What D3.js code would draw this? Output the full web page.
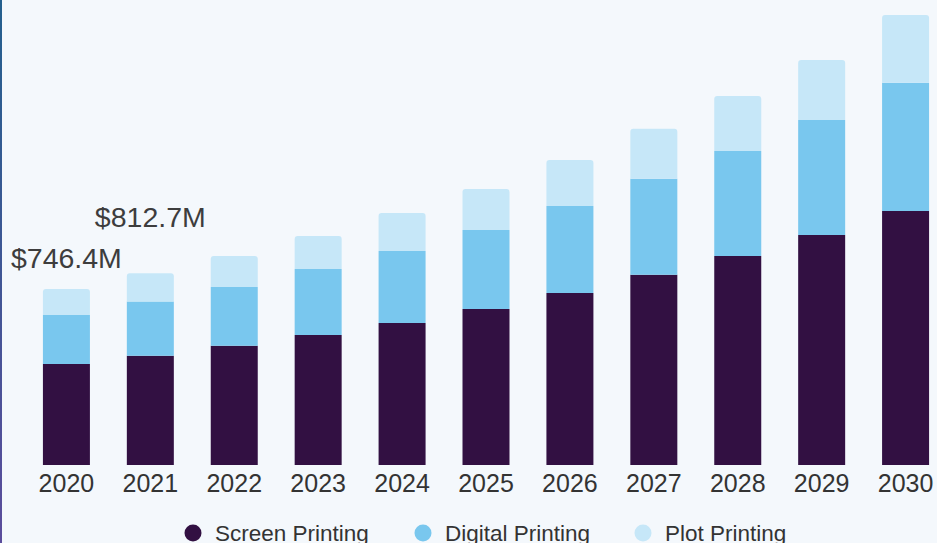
<!DOCTYPE html>
<html>
<head>
<meta charset="utf-8">
<script src="https://cdn.jsdelivr.net/npm/d3@7"></script>
<style>
  html, body { margin: 0; padding: 0; background: #f4f8fc; overflow: hidden; }
  svg { display: block; }
</style>
</head>
<body>
<div id="chart"></div>
<script>
// ----------------------------DATA-------------------------------//
const years = ['2020', '2021', '2022', '2023', '2024', '2025', '2026', '2027', '2028', '2029', '2030'];
const screenPrinting = [428.3, 463.0, 505, 551, 602, 661, 729, 806, 886, 975, 1077];
const digitalPrinting = [207.8, 230.0, 250, 280, 305, 335, 369, 407, 445, 488, 543];
const plotPrinting = [110.3, 119.7, 131, 140, 161, 174, 195, 212, 233, 254, 288];
const seriesNames = ['Screen Printing', 'Digital Printing', 'Plot Printing'];
const seriesColors = ['#321042', '#79c7ee', '#c6e7f8'];
const valueLabels = ['$746.4M', '$812.7M'];

const width = 937;
const height = 543;

const svg = d3.select('#chart').append('svg')
  .attr('width', width)
  .attr('height', height);

svg.append('rect')
  .attr('width', width)
  .attr('height', height)
  .attr('fill', '#f4f8fc');

// left frame edge
const grad = svg.append('defs').append('linearGradient')
  .attr('id', 'edge')
  .attr('x1', 0).attr('y1', 0).attr('x2', 0).attr('y2', 1);
grad.append('stop').attr('offset', '0%').attr('stop-color', '#24608e');
grad.append('stop').attr('offset', '100%').attr('stop-color', '#5b4d9c');
svg.append('rect')
  .attr('x', 0).attr('y', 0)
  .attr('width', 2).attr('height', height)
  .attr('fill', 'url(#edge)');

// ----------------------------SCALES-----------------------------//
const table = years.map((year, i) => ({
  year,
  screen: screenPrinting[i],
  digital: digitalPrinting[i],
  plot: plotPrinting[i],
}));

const keys = ['screen', 'digital', 'plot'];
const stacked = d3.stack().keys(keys)(table);

const xScale = d3.scaleBand()
  .domain(years)
  .range([6, 966])
  .padding(0.44);

const yScale = d3.scaleLinear()
  .domain([0, 1950])
  .range([465, 5]);

const color = d3.scaleOrdinal().domain(keys).range(seriesColors);

// ----------------------------BARS-------------------------------//
const topPath = (x, y0, y1, w, r) => {
  const p = d3.path();
  p.moveTo(x, y0);
  p.lineTo(x, y1 + r);
  p.quadraticCurveTo(x, y1, x + r, y1);
  p.lineTo(x + w - r, y1);
  p.quadraticCurveTo(x + w, y1, x + w, y1 + r);
  p.lineTo(x + w, y0);
  p.closePath();
  return p.toString();
};

const layers = svg.selectAll('g.layer')
  .data(stacked)
  .enter()
  .append('g')
  .attr('class', 'layer')
  .attr('fill', d => color(d.key));

layers.selectAll('path')
  .data(d => d.map(s => ({ s, last: d.key === 'plot' })))
  .enter()
  .append('path')
  .attr('d', d => topPath(
    xScale(d.s.data.year),
    yScale(d.s[0]),
    yScale(d.s[1]),
    xScale.bandwidth(),
    d.last ? 3 : 0,
  ));

// ----------------------------LABELS-----------------------------//
valueLabels.forEach((label, i) => {
  const total = screenPrinting[i] + digitalPrinting[i] + plotPrinting[i];
  svg.append('text')
    .attr('x', xScale(years[i]) + xScale.bandwidth() / 2)
    .attr('y', yScale(total) - 21 - i * 25)
    .attr('text-anchor', 'middle')
    .attr('font-family', 'Liberation Sans, Arial, sans-serif')
    .attr('font-size', 28.5)
    .attr('fill', '#3d3d3d')
    .text(label);
});

// -----------------------------AXIS------------------------------//
const xaxis = d3.axisBottom(xScale).tickSize(0).tickPadding(0);
const axisG = svg.append('g')
  .attr('transform', 'translate(0,474)')
  .call(xaxis);
axisG.select('.domain').remove();
axisG.selectAll('text')
  .attr('dy', '0.71em')
  .attr('font-family', 'Liberation Sans, Arial, sans-serif')
  .attr('font-size', 25)
  .attr('fill', '#333333');

// ----------------------------LEGEND-----------------------------//
const legendX = [193, 423, 643];
const legend = svg.selectAll('g.legend')
  .data(seriesNames)
  .enter()
  .append('g')
  .attr('class', 'legend')
  .attr('transform', (d, i) => `translate(${legendX[i]},533)`);

legend.append('circle')
  .attr('r', 8.5)
  .attr('fill', (d, i) => seriesColors[i]);

legend.append('text')
  .attr('x', 22)
  .attr('dy', '0.36em')
  .attr('font-family', 'Liberation Sans, Arial, sans-serif')
  .attr('font-size', 22.5)
  .attr('fill', '#333333')
  .text(d => d);
</script>
</body>
</html>
